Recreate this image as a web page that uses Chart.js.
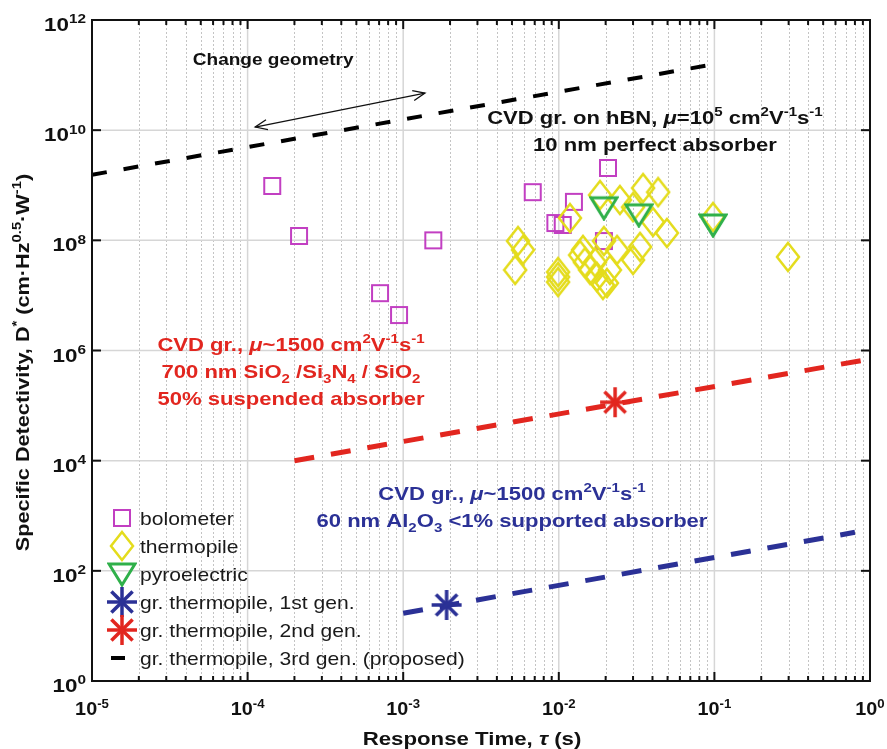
<!DOCTYPE html>
<html>
<head>
<meta charset="utf-8">
<script src="https://cdn.jsdelivr.net/npm/chart.js@4.4.1/dist/chart.umd.min.js"></script>
<style>
  html, body { margin: 0; padding: 0; background: #fff; }
</style>
</head>
<body>
<canvas id="detectivity" width="887" height="749"></canvas>
<script>
// response time tau (s) / specific detectivity D* (cm Hz^0.5 W^-1)
var bolometerT = [1.44e-4, 2.14e-4, 7.1e-4, 9.4e-4, 1.56e-3, 6.8e-3, 9.5e-3, 1.06e-2, 1.25e-2, 1.95e-2, 2.07e-2];
var bolometerD = [9.7e8, 1.2e8, 1.1e7, 4.4e6, 1.0e8, 7.5e8, 2.06e8, 1.9e8, 5.0e8, 9.7e7, 2.06e9];

var thermopileT = [5.47e-3, 5.89e-3, 5.24e-3, 9.9e-3, 9.9e-3, 9.9e-3, 1.18e-2, 1.37e-2, 1.43e-2, 1.47e-2,
                   1.59e-2, 1.71e-2, 1.76e-2, 1.92e-2, 1.84e-2, 1.95e-2, 2.04e-2, 2.13e-2, 2.37e-2, 2.47e-2,
                   3.0e-2, 3.0e-2, 3.33e-2, 3.48e-2, 4.03e-2, 4.35e-2, 4.95e-2, 9.8e-2, 2.97e-1];
var thermopileD = [9.7e7, 6.7e7, 2.9e7, 2.66e7, 2.16e7, 1.75e7, 2.54e8, 5.4e7, 6.7e7, 4.0e7,
                   2.9e7, 4.0e7, 2.16e7, 1.55e7, 6.65e8, 9.7e7, 1.68e7, 2.9e7, 6.7e7, 5.4e8,
                   4.0e8, 4.4e7, 7.6e7, 8.9e8, 2.15e8, 7.5e8, 1.36e8, 2.65e8, 5.0e7];

var pyroT = [1.95e-2, 3.27e-2, 9.8e-2];
var pyroD = [3.9e8, 2.9e8, 1.9e8];

var gen1T = [1.9e-3];
var gen1D = [24];
var gen2T = [2.3e-2];
var gen2D = [1.15e5];

// projected trends, drawn dashed
var gen1LineT = [1e-3, 0.8];
var gen1LineD = [17, 500];
var gen2LineT = [2e-4, 1];
var gen2LineD = [1e4, 7e5];
var gen3LineT = [1e-5, 9e-2];
var gen3LineD = [1.55e9, 1.5e11];

var xDecades = [1e-5, 1e-4, 1e-3, 1e-2, 1e-1, 1];
var xTickLabels = ['-5', '-4', '-3', '-2', '-1', '0'];
var yTicks = [1, 1e2, 1e4, 1e6, 1e8, 1e10, 1e12];
var yTickLabels = ['0', '2', '4', '6', '8', '10', '12'];
var minorSteps = [2, 3, 4, 5, 6, 7, 8, 9];

var legendLabels = ['bolometer', 'thermopile', 'pyroelectric',
  'gr. thermopile, 1st gen.', 'gr. thermopile, 2nd gen.', 'gr. thermopile, 3rd gen. (proposed)'];

var MAGENTA = '#c23fc2', YELLOW = '#e4dc1c', GREEN = '#2fb04a',
    BLUE = '#2b3196', RED = '#e2261f';
var FONT = '"Liberation Sans", Arial, sans-serif';

function pts(t, d) {
  return t.map(function (v, i) { return { x: v, y: d[i] }; });
}

// marker sprites used both for points and legend
function marker(kind, color) {
  var c = document.createElement('canvas');
  var g;
  if (kind === 'square') {
    c.width = 20; c.height = 20; g = c.getContext('2d');
    g.strokeStyle = color; g.lineWidth = 2;
    g.strokeRect(2, 2, 16, 16);
  } else if (kind === 'diamond') {
    c.width = 26; c.height = 32; g = c.getContext('2d');
    g.strokeStyle = color; g.lineWidth = 2.5;
    g.beginPath(); g.moveTo(13, 2); g.lineTo(24, 16); g.lineTo(13, 30); g.lineTo(2, 16); g.closePath(); g.stroke();
  } else if (kind === 'triangle') {
    c.width = 30; c.height = 26; g = c.getContext('2d');
    g.strokeStyle = color; g.lineWidth = 3; g.lineJoin = 'miter';
    g.beginPath(); g.moveTo(2, 3); g.lineTo(28, 3); g.lineTo(15, 24); g.closePath(); g.stroke();
  } else {
    c.width = 36; c.height = 36; g = c.getContext('2d');
    g.strokeStyle = color; g.lineWidth = 3.5; g.lineCap = 'butt';
    for (var k = 0; k < 4; k++) {
      var a = k * Math.PI / 4, r = 15;
      g.beginPath();
      g.moveTo(18 - r * Math.cos(a), 18 - r * Math.sin(a));
      g.lineTo(18 + r * Math.cos(a), 18 + r * Math.sin(a));
      g.stroke();
    }
  }
  return c;
}

var sqImg = marker('square', MAGENTA);
var dmImg = marker('diamond', YELLOW);
var trImg = marker('triangle', GREEN);
var blueStar = marker('star', BLUE);
var redStar = marker('star', RED);

// text with italic / super- / subscript runs
function partFont(p, o) {
  var small = p[1] === 'sup' || p[1] === 'sub';
  return (p[1] === 'i' ? 'italic ' : '') + (o.bold ? 'bold ' : '') +
    (small ? Math.round(o.size * 0.68) : o.size) + 'px ' + FONT;
}
function drawRich(ctx, parts, x, y, o) {
  var w = 0;
  parts.forEach(function (p) { ctx.font = partFont(p, o); w += ctx.measureText(p[0]).width; });
  ctx.save();
  ctx.translate(x, y);
  if (o.rotate) ctx.rotate(o.rotate);
  ctx.scale(o.stretch || 1, 1);
  var cx = o.align === 'center' ? -w / 2 : (o.align === 'right' ? -w : 0);
  ctx.fillStyle = o.color || '#111';
  ctx.textBaseline = 'alphabetic';
  ctx.textAlign = 'left';
  parts.forEach(function (p) {
    ctx.font = partFont(p, o);
    var dy = p[1] === 'sup' ? -o.size * 0.4 : (p[1] === 'sub' ? o.size * 0.24 : 0);
    ctx.fillText(p[0], cx, dy);
    cx += ctx.measureText(p[0]).width;
  });
  ctx.restore();
}

var notes = [
  { x: 1.46e-4, y: 2.0e11, color: '#111', size: 17, stretch: 1.12, lines: [[['Change geometry']]] },
  { x: 4.15e-2, y: 1.66e10, color: '#111', size: 19, stretch: 1.16, lines: [
    [['CVD gr. on hBN, '], ['\u03bc', 'i'], ['=10'], ['5', 'sup'], [' cm'], ['2', 'sup'], ['V'], ['-1', 'sup'], ['s'], ['-1', 'sup']],
    [['10 nm perfect absorber']]] },
  { x: 1.9e-4, y: 1.26e6, color: RED, size: 19, stretch: 1.16, lines: [
    [['CVD gr., '], ['\u03bc', 'i'], ['~1500 cm'], ['2', 'sup'], ['V'], ['-1', 'sup'], ['s'], ['-1', 'sup']],
    [['700 nm SiO'], ['2', 'sub'], [' /Si'], ['3', 'sub'], ['N'], ['4', 'sub'], [' / SiO'], ['2', 'sub']],
    [['50% suspended absorber']]] },
  { x: 5.0e-3, y: 2.48e3, color: BLUE, size: 19, stretch: 1.16, lines: [
    [['CVD gr., '], ['\u03bc', 'i'], ['~1500 cm'], ['2', 'sup'], ['V'], ['-1', 'sup'], ['s'], ['-1', 'sup']],
    [['60 nm Al'], ['2', 'sub'], ['O'], ['3', 'sub'], [' <1% supported absorber']]] }
];
var arrowEnds = [{ x: 1.12e-4, y: 1.14e10 }, { x: 1.38e-3, y: 4.7e10 }];

function seg(ctx, x1, y1, x2, y2) {
  ctx.beginPath(); ctx.moveTo(x1, y1); ctx.lineTo(x2, y2); ctx.stroke();
}

var axesPlugin = {
  id: 'matlabAxes',
  beforeDatasetsDraw: function (chart) {
    var ctx = chart.ctx, a = chart.chartArea, xs = chart.scales.x, ys = chart.scales.y;
    ctx.save();
    ctx.lineWidth = 1;
    ctx.strokeStyle = '#c4c4c4';
    ctx.setLineDash([2, 2]);
    xDecades.slice(0, -1).forEach(function (d) {
      minorSteps.forEach(function (m) {
        var px = Math.round(xs.getPixelForValue(d * m)) + 0.5;
        seg(ctx, px, a.top, px, a.bottom);
      });
    });
    ctx.setLineDash([]);
    ctx.strokeStyle = '#d6d6d6';
    ctx.lineWidth = 1.5;
    xDecades.forEach(function (d) {
      var px = xs.getPixelForValue(d);
      seg(ctx, px, a.top, px, a.bottom);
    });
    yTicks.forEach(function (v) {
      var py = ys.getPixelForValue(v);
      seg(ctx, a.left, py, a.right, py);
    });
    ctx.restore();
  },
  afterDatasetsDraw: function (chart) {
    var ctx = chart.ctx, a = chart.chartArea, xs = chart.scales.x, ys = chart.scales.y;
    ctx.save();
    ctx.strokeStyle = '#111';
    ctx.lineWidth = 2;
    // inward ticks
    xDecades.forEach(function (d, i) {
      var px = xs.getPixelForValue(d);
      seg(ctx, px, a.bottom, px, a.bottom - 9);
      seg(ctx, px, a.top, px, a.top + 9);
      if (i < xDecades.length - 1) {
        minorSteps.forEach(function (m) {
          var q = xs.getPixelForValue(d * m);
          seg(ctx, q, a.bottom, q, a.bottom - 5);
          seg(ctx, q, a.top, q, a.top + 5);
        });
      }
    });
    yTicks.forEach(function (v) {
      var py = ys.getPixelForValue(v);
      seg(ctx, a.left, py, a.left + 9, py);
      seg(ctx, a.right, py, a.right - 9, py);
    });
    ctx.strokeRect(a.left, a.top, a.right - a.left, a.bottom - a.top);

    // tick labels
    xDecades.forEach(function (d, i) {
      drawRich(ctx, [['10'], [xTickLabels[i], 'sup']], xs.getPixelForValue(d), a.bottom + 34,
        { size: 18, bold: true, stretch: 1.1, color: '#111', align: 'center' });
    });
    yTicks.forEach(function (v, i) {
      drawRich(ctx, [['10'], [yTickLabels[i], 'sup']], a.left - 6, ys.getPixelForValue(v) + 11,
        { size: 19, bold: true, stretch: 1.18, color: '#111', align: 'right' });
    });

    // axis titles
    drawRich(ctx, [['Response Time, '], ['\u03c4', 'i'], [' (s)']], 472, 745,
      { size: 19, bold: true, stretch: 1.17, align: 'center', color: '#111' });
    drawRich(ctx, [['Specific Detectivity, D'], ['*', 'sup'], [' (cm\u00b7Hz'], ['0.5', 'sup'], ['\u00b7W'], ['-1', 'sup'], [')']],
      29, (a.top + a.bottom) / 2 + 12,
      { size: 19, bold: true, stretch: 1.14, align: 'center', color: '#111', rotate: -Math.PI / 2 });

    // annotations
    notes.forEach(function (n) {
      var cx = xs.getPixelForValue(n.x), cy = ys.getPixelForValue(n.y);
      n.lines.forEach(function (ln, k) {
        drawRich(ctx, ln, cx, cy + 6 + k * 27,
          { size: n.size, bold: true, stretch: n.stretch, align: 'center', color: n.color });
      });
    });

    // double-headed arrow
    var p1 = { x: xs.getPixelForValue(arrowEnds[0].x), y: ys.getPixelForValue(arrowEnds[0].y) };
    var p2 = { x: xs.getPixelForValue(arrowEnds[1].x), y: ys.getPixelForValue(arrowEnds[1].y) };
    ctx.lineWidth = 1.3;
    ctx.strokeStyle = '#111';
    seg(ctx, p1.x, p1.y, p2.x, p2.y);
    var ang = Math.atan2(p2.y - p1.y, p2.x - p1.x);
    [[p1, ang], [p2, ang + Math.PI]].forEach(function (h) {
      var p = h[0], t = h[1];
      ctx.beginPath();
      ctx.moveTo(p.x + 13 * Math.cos(t + 0.4), p.y + 13 * Math.sin(t + 0.4));
      ctx.lineTo(p.x, p.y);
      ctx.lineTo(p.x + 13 * Math.cos(t - 0.4), p.y + 13 * Math.sin(t - 0.4));
      ctx.stroke();
    });

    // legend
    var lx = a.left + 30, ly = a.top + 498;
    var icons = [sqImg, dmImg, trImg, blueStar, redStar, null];
    legendLabels.forEach(function (label, i) {
      var y = ly + i * 28;
      if (icons[i]) {
        ctx.drawImage(icons[i], lx - icons[i].width / 2, y - icons[i].height / 2);
      } else {
        ctx.strokeStyle = '#000';
        ctx.lineWidth = 4;
        seg(ctx, lx - 11, y, lx + 3, y);
      }
      drawRich(ctx, [[label]], lx + 18, y + 7, { size: 19, stretch: 1.11, align: 'left', color: '#1a1a1a' });
    });
    ctx.restore();
  }
};

new Chart(document.getElementById('detectivity'), {
  type: 'scatter',
  data: {
    datasets: [
      { label: legendLabels[0], data: pts(bolometerT, bolometerD), pointStyle: sqImg, pointRadius: 10, order: 4 },
      { label: legendLabels[1], data: pts(thermopileT, thermopileD), pointStyle: dmImg, pointRadius: 10, order: 3 },
      { label: legendLabels[2], data: pts(pyroT, pyroD), pointStyle: trImg, pointRadius: 10, order: 2 },
      { label: legendLabels[3], data: pts(gen1T, gen1D), pointStyle: blueStar, pointRadius: 10, order: 0 },
      { label: legendLabels[4], data: pts(gen2T, gen2D), pointStyle: redStar, pointRadius: 10, order: 0 },
      { label: legendLabels[5], data: pts(gen3LineT, gen3LineD), showLine: true, pointRadius: 0,
        borderColor: '#000', borderWidth: 4, borderDash: [15, 17], order: 5 },
      { label: 'trend 2nd gen.', data: pts(gen2LineT, gen2LineD), showLine: true, pointRadius: 0,
        borderColor: RED, borderWidth: 5, borderDash: [20, 17], order: 5 },
      { label: 'trend 1st gen.', data: pts(gen1LineT, gen1LineD), showLine: true, pointRadius: 0,
        borderColor: BLUE, borderWidth: 5, borderDash: [20, 17], order: 5 }
    ]
  },
  options: {
    responsive: false,
    animation: false,
    layout: { padding: { left: 0, right: 17, top: 20, bottom: 0 } },
    scales: {
      x: {
        type: 'logarithmic', min: 1e-5, max: 1,
        grid: { display: false }, border: { display: false }, ticks: { display: false },
        afterFit: function (s) { s.height = 68; }
      },
      y: {
        type: 'logarithmic', min: 1, max: 1e12,
        grid: { display: false }, border: { display: false }, ticks: { display: false },
        afterFit: function (s) { s.width = 92; }
      }
    },
    plugins: { legend: { display: false }, tooltip: { enabled: false } }
  },
  plugins: [axesPlugin]
});
</script>
</body>
</html>
